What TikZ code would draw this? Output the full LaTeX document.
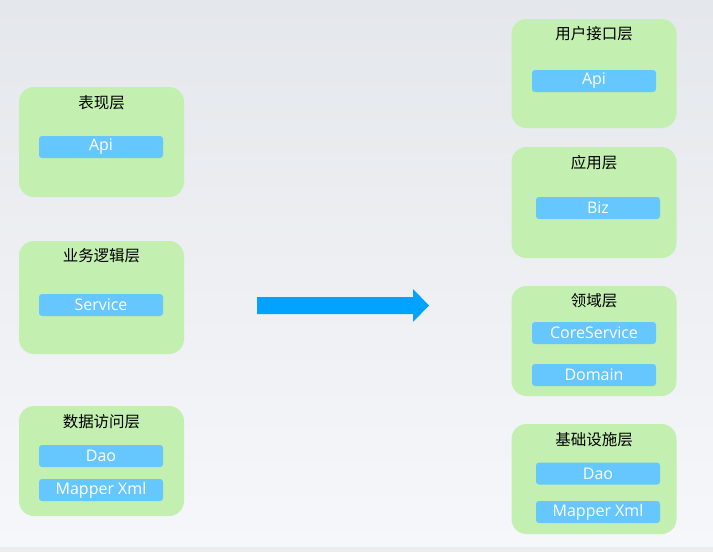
\documentclass[tikz,border=0pt]{standalone}
\usepackage{fontspec}
\newfontfamily\cjkfont{Noto Sans CJK SC}
\newfontfamily\itemfont{Open Sans}
\usetikzlibrary{positioning}
\definecolor{bgtop}{RGB}{228,231,235}
\definecolor{bgbottom}{RGB}{246,247,251}
\definecolor{stripgray}{RGB}{236,236,238}
\definecolor{layergreen}{RGB}{195,240,176}
\definecolor{itemblue}{RGB}{102,199,255}
\definecolor{arrowblue}{RGB}{0,163,255}
\tikzset{
LAYER/.style ={fill=layergreen,draw=none,rounded corners=15pt,inner sep=0pt,minimum width=165pt,minimum height=#1},
LAYER/.default = 110pt,
TITLE/.style ={font=\cjkfont\fontsize{15.5}{18}\selectfont,text=black,inner sep=0pt},
ITEM/.style ={fill=itemblue,draw=none,rounded corners=3pt,inner sep=0pt,minimum width=124pt,minimum height=22pt,
	text=white,font=\itemfont\fontsize{16}{18}\selectfont},
}
\begin{document}
\begin{tikzpicture}[x=1pt,y=-1pt]
	\useasboundingbox (0,0) rectangle (713,552);
	%Background
	\shade[top color=bgtop,bottom color=bgbottom] (0,0) rectangle (713,547);
	\fill[stripgray] (0,547) rectangle (713,552);
	%Left: three layers
	\node[LAYER] (present) at (101.5,142) {};
	\node[TITLE] (presentT) at (101.5,103) {表现层};
	\node[ITEM] (presentApi) at (101,147) {Api};
	\node[LAYER=113pt] (logic) at (101.5,297.5) {};
	\node[TITLE] (logicT) at (101.5,256) {业务逻辑层};
	\node[ITEM] (logicService) at (101,305) {Service};
	\node[LAYER] (access) at (101.5,461) {};
	\node[TITLE] (accessT) at (101.5,422) {数据访问层};
	\node[ITEM] (accessDao) at (101,456) {Dao};
	\node[ITEM] (accessXml) at (101,490) {Mapper Xml};
	%Arrow
	\fill[arrowblue] (257,297) -- (413,297) -- (413,289) -- (429,305.5)
		-- (413,322) -- (413,314) -- (257,314) -- cycle;
	%Right: four layers
	\node[LAYER=109pt] (user) at (594,73.5) {};
	\node[TITLE] (userT) at (594,34) {用户接口层};
	\node[ITEM] (userApi) at (594,81) {Api};
	\node[LAYER=111pt] (app) at (594,202.5) {};
	\node[TITLE] (appT) at (594,163) {应用层};
	\node[ITEM] (appBiz) at (598,208) {Biz};
	\node[LAYER] (domain) at (594,341) {};
	\node[TITLE] (domainT) at (594,301) {领域层};
	\node[ITEM] (domainCore) at (594,333) {CoreService};
	\node[ITEM] (domainDomain) at (594,375) {Domain};
	\node[LAYER] (infra) at (594,479) {};
	\node[TITLE] (infraT) at (594,440) {基础设施层};
	\node[ITEM] (infraDao) at (598,473.5) {Dao};
	\node[ITEM] (infraXml) at (598,512) {Mapper Xml};
\end{tikzpicture}
\end{document}
